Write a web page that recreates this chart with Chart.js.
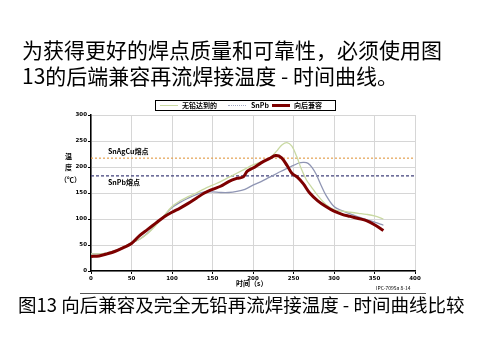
<!DOCTYPE html>
<html>
<head>
<meta charset="utf-8">
<script src="https://cdn.jsdelivr.net/npm/chart.js@4"></script>
<style>
  body { margin: 0; background: #fff; }
  #wrap { position: relative; width: 480px; height: 360px; overflow: hidden; font-family: "Noto Sans CJK SC", "Noto Sans", sans-serif; color: #000; }
  #wrap canvas { position: absolute; left: 0; top: 0; }
  .t { position: absolute; white-space: nowrap; line-height: 1; }
  .title { left: 22px; font-size: 21px; }
  .small { font-size: 7px; font-weight: bold; }
  #legend { position: absolute; left: 155px; top: 100px; width: 179px; height: 9px; border: 1.5px solid #000; background: #fff; font-size: 7px; font-weight: bold; }
  .sw { position: absolute; top: 4px; height: 0; }
  #frame { position: absolute; left: 80px; top: 293px; width: 346px; height: 0; border-top: 1px solid #555; }
</style>
</head>
<body>
<div id="wrap">
  <canvas id="myChart" width="480" height="360"></canvas>
  <div class="t title" style="top:39px">为获得更好的焊点质量和可靠性，必须使用图</div>
  <div class="t title" style="top:65px">13的后端兼容再流焊接温度 - 时间曲线。</div>
  <div id="legend">
    <div class="sw" style="left:4px;width:18px;border-top:1.5px solid #c9d9a2"></div>
    <div class="t" style="left:26px;top:1px">无铅达到的</div>
    <div class="sw" style="left:72px;width:18px;border-top:1.5px dotted #a0a6c0"></div>
    <div class="t" style="left:95px;top:1px">SnPb</div>
    <div class="sw" style="left:116px;width:18px;border-top:3px solid #7d0000;top:3px"></div>
    <div class="t" style="left:138px;top:1px">向后兼容</div>
  </div>
  <div class="t small" style="left:108px;top:148px">SnAgCu熔点</div>
  <div class="t small" style="left:108px;top:179px">SnPb熔点</div>
  <div class="t small" style="left:65px;top:153px">温</div>
  <div class="t small" style="left:65px;top:164px">度</div>
  <div class="t small" style="left:60px;top:176px">（℃）</div>
  <div class="t small" style="left:236px;top:280px">时间（s）</div>
  <div class="t" style="left:376px;top:285px;font-size:5px">IPC-7095a 8-14</div>
  <div id="frame"></div>
  <div class="t" style="left:18px;top:295px;font-size:18.5px">图13 向后兼容及完全无铅再流焊接温度 - 时间曲线比较</div>
</div>
<script>
// backward compatible profile
const timeCompat = [0, 10, 20, 30, 40, 50, 60, 70, 80, 90, 100, 110, 120, 130, 140, 150, 160, 170, 180, 188, 193, 200, 210, 220, 228, 235, 242, 248, 255, 262, 270, 280, 290, 300, 310, 320, 330, 340, 350, 361];
const tempCompat = [28, 29, 33, 38, 45, 53, 68, 80, 92, 104, 113, 121, 130, 140, 150, 157, 163, 172, 178, 181, 192, 198, 208, 216, 222, 218, 203, 188, 180, 168, 150, 135, 124, 115, 109, 105, 101, 97, 89, 78];

// lead-free profile
const timeLeadFree = [0, 10, 20, 30, 40, 50, 60, 70, 80, 90, 100, 110, 120, 130, 140, 150, 160, 170, 180, 190, 200, 210, 220, 230, 236, 242, 248, 254, 260, 266, 272, 280, 290, 300, 310, 320, 330, 340, 350, 361];
const tempLeadFree = [33, 33, 35, 39, 46, 54, 61, 72, 88, 106, 124, 135, 143, 150, 158, 165, 172, 180, 188, 196, 204, 210, 216, 232, 243, 247, 240, 220, 195, 175, 162, 145, 128, 118, 115, 113, 111, 109, 106, 100];

// SnPb profile
const timeSnPb = [0, 10, 20, 30, 40, 50, 60, 70, 80, 90, 100, 110, 120, 130, 140, 150, 160, 170, 180, 190, 200, 210, 220, 230, 240, 250, 257, 263, 268, 273, 278, 284, 290, 300, 310, 320, 330, 340, 350, 361];
const tempSnPb = [33, 33, 35, 39, 46, 54, 61, 73, 89, 106, 122, 132, 140, 147, 152, 152, 151, 151, 153, 157, 165, 172, 180, 188, 196, 203, 208, 209, 207, 199, 186, 165, 146, 124, 116, 110, 104, 99, 94, 88];

// melting points
const meltSnAgCu = 217;
const meltSnPb = 183;
const timeRange = [0, 400];

const toPoints = (xs, ys) => xs.map((x, i) => ({ x, y: ys[i] }));
const flatLine = v => timeRange.map(x => ({ x, y: v }));

const tickFont = { family: "DejaVu Sans", size: 5.5, weight: "bold" };

new Chart(document.getElementById("myChart"), {
  type: "line",
  data: {
    datasets: [
      { label: "向后兼容", data: toPoints(timeCompat, tempCompat), borderColor: "#7d0000", borderWidth: 3, tension: 0.35 },
      { label: "无铅达到的", data: toPoints(timeLeadFree, tempLeadFree), borderColor: "#c9d9a2", borderWidth: 1.3, tension: 0.35 },
      { label: "SnPb", data: toPoints(timeSnPb, tempSnPb), borderColor: "#9096b4", borderWidth: 1.3, tension: 0.35 },
      { label: "SnAgCu熔点", data: flatLine(meltSnAgCu), borderColor: "#e3a050", borderWidth: 1.2, borderDash: [2, 2] },
      { label: "SnPb熔点", data: flatLine(meltSnPb), borderColor: "#40407a", borderWidth: 1.2, borderDash: [3, 2] }
    ]
  },
  options: {
    responsive: false,
    animation: false,
    layout: { padding: { left: 69, right: 65, top: 115, bottom: 77 } },
    elements: { point: { radius: 0 } },
    plugins: { legend: { display: false }, tooltip: { enabled: false } },
    scales: {
      x: {
        type: "linear", min: 0, max: 400,
        ticks: { stepSize: 50, font: tickFont, color: "#000", padding: 1 },
        grid: { color: "#d6d6d6", tickColor: "#000", tickLength: 3 },
        border: { color: "#000", width: 1.5 },
        afterFit: s => { s.height = 12; }
      },
      y: {
        min: 0, max: 300,
        ticks: { stepSize: 50, font: tickFont, color: "#000", padding: 1 },
        grid: { color: "#d6d6d6", tickColor: "#000", tickLength: 3 },
        border: { color: "#000", width: 1.5 },
        afterFit: s => { s.width = 22; }
      }
    }
  }
});
</script>
</body>
</html>
